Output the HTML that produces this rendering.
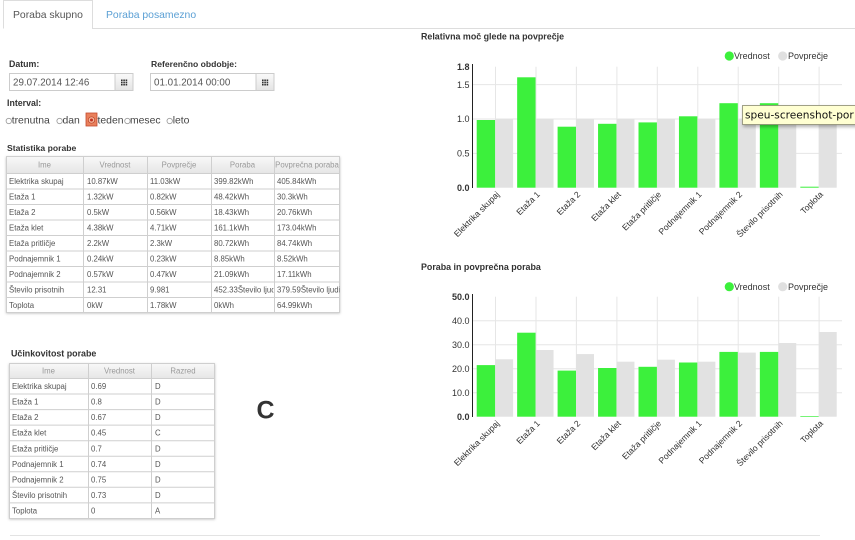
<!DOCTYPE html>
<html>
<head>
<meta charset="utf-8">
<style>
html,body{margin:0;padding:0;background:#fff;}
body{width:855px;height:540px;overflow:hidden;}
svg{display:block;}
</style>
</head>
<body>
<svg width="855" height="540" viewBox="0 0 855 540" xmlns="http://www.w3.org/2000/svg" font-family="'Liberation Sans', Arial, sans-serif">
<defs>
  <linearGradient id="hg" x1="0" y1="0" x2="0" y2="1">
    <stop offset="0" stop-color="#f9f9f9"/>
    <stop offset="1" stop-color="#e6e6e6"/>
  </linearGradient>
  <linearGradient id="bg" x1="0" y1="0" x2="0" y2="1">
    <stop offset="0" stop-color="#fafafa"/>
    <stop offset="1" stop-color="#e4e4e4"/>
  </linearGradient>
  <filter id="sh" x="-5%" y="-5%" width="110%" height="115%">
    <feDropShadow dx="0" dy="1" stdDeviation="1.2" flood-color="#000" flood-opacity="0.25"/>
  </filter>
  <filter id="tsh" x="-10%" y="-30%" width="130%" height="180%">
    <feDropShadow dx="1" dy="2" stdDeviation="1.5" flood-color="#000" flood-opacity="0.3"/>
  </filter>
  <clipPath id="c14"><rect x="211" y="150" width="62.5" height="170"/></clipPath>
  <clipPath id="c15"><rect x="274" y="150" width="65.5" height="170"/></clipPath>
</defs>

<!-- Tabs -->
<path d="M3.5 28.5 V0.5 H92.5 V28.5 H855" fill="none" stroke="#dddddd"/>
<text x="13" y="17.8" font-size="10.4" fill="#555">Poraba skupno</text>
<text x="106" y="17.8" font-size="10.4" fill="#5a9fd4">Poraba posamezno</text>

<!-- Date labels -->
<text x="9" y="67.2" font-size="8.8" font-weight="bold" fill="#333">Datum:</text>
<text x="151" y="67.2" font-size="8.6" font-weight="bold" fill="#333">Referenčno obdobje:</text>

<!-- Inputs -->
<rect x="9.5" y="73.5" width="105.5" height="17" fill="#fff" stroke="#cccccc"/>
<rect x="115" y="73.5" width="18" height="17" fill="url(#bg)" stroke="#cccccc"/>
<g fill="#333">
  <rect x="121" y="79.5" width="1.6" height="1.6"/><rect x="123.3" y="79.5" width="1.6" height="1.6"/><rect x="125.6" y="79.5" width="1.6" height="1.6"/>
  <rect x="121" y="81.7" width="1.6" height="1.6"/><rect x="123.3" y="81.7" width="1.6" height="1.6"/><rect x="125.6" y="81.7" width="1.6" height="1.6"/>
  <rect x="121" y="83.9" width="1.6" height="1.6"/><rect x="123.3" y="83.9" width="1.6" height="1.6"/><rect x="125.6" y="83.9" width="1.6" height="1.6"/>
</g>
<text x="13" y="85.6" font-size="9.8" fill="#555">29.07.2014 12:46</text>

<rect x="150.5" y="73.5" width="105.5" height="17" fill="#fff" stroke="#cccccc"/>
<rect x="256" y="73.5" width="18" height="17" fill="url(#bg)" stroke="#cccccc"/>
<g fill="#333">
  <rect x="262" y="79.5" width="1.6" height="1.6"/><rect x="264.3" y="79.5" width="1.6" height="1.6"/><rect x="266.6" y="79.5" width="1.6" height="1.6"/>
  <rect x="262" y="81.7" width="1.6" height="1.6"/><rect x="264.3" y="81.7" width="1.6" height="1.6"/><rect x="266.6" y="81.7" width="1.6" height="1.6"/>
  <rect x="262" y="83.9" width="1.6" height="1.6"/><rect x="264.3" y="83.9" width="1.6" height="1.6"/><rect x="266.6" y="83.9" width="1.6" height="1.6"/>
</g>
<text x="154" y="85.6" font-size="9.8" fill="#555">01.01.2014 00:00</text>

<!-- Interval -->
<text x="7" y="106" font-size="8.8" font-weight="bold" fill="#333">Interval:</text>
<g font-size="10.4" fill="#444">
  <circle cx="8.8" cy="121" r="2.7" fill="#fff" stroke="#999" stroke-width="0.8"/>
  <text x="11.7" y="123.3">trenutna</text>
  <circle cx="59.6" cy="121" r="2.7" fill="#fff" stroke="#999" stroke-width="0.8"/>
  <text x="62.5" y="123.3">dan</text>
  <rect x="86" y="113" width="11" height="13" fill="#e9805c" stroke="#c44a2e" stroke-width="0.8"/>
  <circle cx="91.5" cy="120" r="3.2" fill="#f6b79c" stroke="#b8432a" stroke-width="0.7"/>
  <circle cx="91.5" cy="120" r="1.5" fill="#c0301f"/>
  <text x="97.5" y="123.3">teden</text>
  <circle cx="127.4" cy="121" r="2.7" fill="#fff" stroke="#999" stroke-width="0.8"/>
  <text x="130" y="123.3">mesec</text>
  <circle cx="169.7" cy="121" r="2.7" fill="#fff" stroke="#999" stroke-width="0.8"/>
  <text x="172.7" y="123.3">leto</text>
</g>

<!-- Statistika porabe -->
<text x="7" y="151" font-size="8.6" font-weight="bold" fill="#333">Statistika porabe</text>
<rect x="6" y="156" width="334" height="156.5" fill="#fff" filter="url(#sh)"/>
<rect x="6" y="156" width="334" height="17" fill="url(#hg)"/>
<g stroke="#cfcfcf" stroke-width="1" fill="none">
  <rect x="6.5" y="156.5" width="333" height="156"/>
  <line x1="83.5" y1="156" x2="83.5" y2="312.5"/>
  <line x1="147.5" y1="156" x2="147.5" y2="312.5"/>
  <line x1="211.5" y1="156" x2="211.5" y2="312.5"/>
  <line x1="274.5" y1="156" x2="274.5" y2="312.5"/>
  <line x1="6" y1="173.5" x2="340" y2="173.5"/>
  <line x1="6" y1="189" x2="340" y2="189"/>
  <line x1="6" y1="204.5" x2="340" y2="204.5"/>
  <line x1="6" y1="220" x2="340" y2="220"/>
  <line x1="6" y1="235.5" x2="340" y2="235.5"/>
  <line x1="6" y1="251" x2="340" y2="251"/>
  <line x1="6" y1="266.5" x2="340" y2="266.5"/>
  <line x1="6" y1="282" x2="340" y2="282"/>
  <line x1="6" y1="297.5" x2="340" y2="297.5"/>
</g>
<g font-size="7.8" fill="#999" text-anchor="middle">
  <text x="44.5" y="167.3">Ime</text>
  <text x="115" y="167.3">Vrednost</text>
  <text x="179" y="167.3">Povprečje</text>
  <text x="242.5" y="167.3">Poraba</text>
  <text x="307" y="167.3" clip-path="url(#c15)">Povprečna poraba</text>
</g>
<g font-size="7.8" fill="#555">
  <text x="9" y="183.8">Elektrika skupaj</text><text x="87" y="183.8">10.87kW</text><text x="150" y="183.8">11.03kW</text><text x="214" y="183.8" clip-path="url(#c14)">399.82kWh</text><text x="277" y="183.8" clip-path="url(#c15)">405.84kWh</text>
  <text x="9" y="199.3">Etaža 1</text><text x="87" y="199.3">1.32kW</text><text x="150" y="199.3">0.82kW</text><text x="214" y="199.3" clip-path="url(#c14)">48.42kWh</text><text x="277" y="199.3" clip-path="url(#c15)">30.3kWh</text>
  <text x="9" y="214.8">Etaža 2</text><text x="87" y="214.8">0.5kW</text><text x="150" y="214.8">0.56kW</text><text x="214" y="214.8" clip-path="url(#c14)">18.43kWh</text><text x="277" y="214.8" clip-path="url(#c15)">20.76kWh</text>
  <text x="9" y="230.3">Etaža klet</text><text x="87" y="230.3">4.38kW</text><text x="150" y="230.3">4.71kW</text><text x="214" y="230.3" clip-path="url(#c14)">161.1kWh</text><text x="277" y="230.3" clip-path="url(#c15)">173.04kWh</text>
  <text x="9" y="245.8">Etaža pritličje</text><text x="87" y="245.8">2.2kW</text><text x="150" y="245.8">2.3kW</text><text x="214" y="245.8" clip-path="url(#c14)">80.72kWh</text><text x="277" y="245.8" clip-path="url(#c15)">84.74kWh</text>
  <text x="9" y="261.3">Podnajemnik 1</text><text x="87" y="261.3">0.24kW</text><text x="150" y="261.3">0.23kW</text><text x="214" y="261.3" clip-path="url(#c14)">8.85kWh</text><text x="277" y="261.3" clip-path="url(#c15)">8.52kWh</text>
  <text x="9" y="276.8">Podnajemnik 2</text><text x="87" y="276.8">0.57kW</text><text x="150" y="276.8">0.47kW</text><text x="214" y="276.8" clip-path="url(#c14)">21.09kWh</text><text x="277" y="276.8" clip-path="url(#c15)">17.11kWh</text>
  <text x="9" y="292.3">Število prisotnih</text><text x="87" y="292.3">12.31</text><text x="150" y="292.3">9.981</text><text x="214" y="292.3" clip-path="url(#c14)">452.33Število ljudi</text><text x="277" y="292.3" clip-path="url(#c15)">379.59Število ljudi</text>
  <text x="9" y="307.8">Toplota</text><text x="87" y="307.8">0kW</text><text x="150" y="307.8">1.78kW</text><text x="214" y="307.8" clip-path="url(#c14)">0kWh</text><text x="277" y="307.8" clip-path="url(#c15)">64.99kWh</text>
</g>

<!-- Učinkovitost porabe -->
<text x="11" y="356.3" font-size="8.9" font-weight="bold" fill="#333">Učinkovitost porabe</text>
<rect x="9" y="363" width="206" height="155.5" fill="#fff" filter="url(#sh)"/>
<rect x="9" y="363" width="206" height="15.5" fill="url(#hg)"/>
<g stroke="#cfcfcf" stroke-width="1" fill="none">
  <rect x="9.5" y="363.5" width="205" height="155"/>
  <line x1="88.5" y1="363" x2="88.5" y2="518.5"/>
  <line x1="151.5" y1="363" x2="151.5" y2="518.5"/>
  <line x1="9" y1="378.5" x2="215" y2="378.5"/>
  <line x1="9" y1="394" x2="215" y2="394"/>
  <line x1="9" y1="409.6" x2="215" y2="409.6"/>
  <line x1="9" y1="425.1" x2="215" y2="425.1"/>
  <line x1="9" y1="440.7" x2="215" y2="440.7"/>
  <line x1="9" y1="456.2" x2="215" y2="456.2"/>
  <line x1="9" y1="471.8" x2="215" y2="471.8"/>
  <line x1="9" y1="487.3" x2="215" y2="487.3"/>
  <line x1="9" y1="502.9" x2="215" y2="502.9"/>
</g>
<g font-size="7.8" fill="#999" text-anchor="middle">
  <text x="48.5" y="373.6">Ime</text>
  <text x="119.5" y="373.6">Vrednost</text>
  <text x="183" y="373.6">Razred</text>
</g>
<g font-size="7.8" fill="#555">
  <text x="12" y="389.1">Elektrika skupaj</text><text x="91" y="389.1">0.69</text><text x="155" y="389.1">D</text>
  <text x="12" y="404.6">Etaža 1</text><text x="91" y="404.6">0.8</text><text x="155" y="404.6">D</text>
  <text x="12" y="420.2">Etaža 2</text><text x="91" y="420.2">0.67</text><text x="155" y="420.2">D</text>
  <text x="12" y="435.7">Etaža klet</text><text x="91" y="435.7">0.45</text><text x="155" y="435.7">C</text>
  <text x="12" y="451.3">Etaža pritličje</text><text x="91" y="451.3">0.7</text><text x="155" y="451.3">D</text>
  <text x="12" y="466.8">Podnajemnik 1</text><text x="91" y="466.8">0.74</text><text x="155" y="466.8">D</text>
  <text x="12" y="482.4">Podnajemnik 2</text><text x="91" y="482.4">0.75</text><text x="155" y="482.4">D</text>
  <text x="12" y="497.9">Število prisotnih</text><text x="91" y="497.9">0.73</text><text x="155" y="497.9">D</text>
  <text x="12" y="513.5">Toplota</text><text x="91" y="513.5">0</text><text x="155" y="513.5">A</text>
</g>

<!-- Big C -->
<text x="256.5" y="418.5" font-size="25" font-weight="bold" fill="#333">C</text>

<!-- Bottom line -->
<line x1="10" y1="535.5" x2="820" y2="535.5" stroke="#e3e3e3"/>

<!-- ================= CHART 1 ================= -->
<text x="421" y="39.7" font-size="8.9" font-weight="bold" fill="#333">Relativna moč glede na povprečje</text>
<circle cx="729.3" cy="56" r="4.6" fill="#3cf03c"/>
<text x="734" y="59.2" font-size="9" fill="#333">Vrednost</text>
<circle cx="782.7" cy="56" r="4.6" fill="#e0e0e0"/>
<text x="788" y="59.2" font-size="9" fill="#333">Povprečje</text>

<g stroke="#e6e6e6" stroke-width="1">
  <line x1="472.5" y1="84.65" x2="842" y2="84.65"/>
  <line x1="472.5" y1="119" x2="842" y2="119"/>
  <line x1="472.5" y1="153.35" x2="842" y2="153.35"/>
  <line x1="495.5" y1="66.7" x2="495.5" y2="187.7"/>
  <line x1="536" y1="66.7" x2="536" y2="187.7"/>
  <line x1="576.4" y1="66.7" x2="576.4" y2="187.7"/>
  <line x1="616.9" y1="66.7" x2="616.9" y2="187.7"/>
  <line x1="657.3" y1="66.7" x2="657.3" y2="187.7"/>
  <line x1="697.8" y1="66.7" x2="697.8" y2="187.7"/>
  <line x1="738.2" y1="66.7" x2="738.2" y2="187.7"/>
  <line x1="778.7" y1="66.7" x2="778.7" y2="187.7"/>
  <line x1="819.1" y1="66.7" x2="819.1" y2="187.7"/>
</g>
<g fill="#3cf03c">
  <rect x="476.7" y="120.0" width="18.4" height="67.7"/>
  <rect x="517.15" y="77.3" width="18.4" height="110.4"/>
  <rect x="557.6" y="126.7" width="18.4" height="61.0"/>
  <rect x="598.05" y="123.8" width="18.4" height="63.9"/>
  <rect x="638.5" y="122.4" width="18.4" height="65.3"/>
  <rect x="678.95" y="116.3" width="18.4" height="71.4"/>
  <rect x="719.4" y="103.2" width="18.4" height="84.5"/>
  <rect x="759.85" y="103.2" width="18.4" height="84.5"/>
  <rect x="800.3" y="186.7" width="18.4" height="1"/>
</g>
<g fill="#e2e2e2">
  <rect x="495.3" y="119" width="17.8" height="68.7"/>
  <rect x="535.75" y="119" width="17.8" height="68.7"/>
  <rect x="576.2" y="119" width="17.8" height="68.7"/>
  <rect x="616.65" y="119" width="17.8" height="68.7"/>
  <rect x="657.1" y="119" width="17.8" height="68.7"/>
  <rect x="697.55" y="119" width="17.8" height="68.7"/>
  <rect x="738.0" y="119" width="17.8" height="68.7"/>
  <rect x="778.45" y="119" width="17.8" height="68.7"/>
  <rect x="818.9" y="119" width="17.8" height="68.7"/>
</g>
<line x1="472.5" y1="64" x2="472.5" y2="188" stroke="#222" stroke-width="1"/>
<g font-size="9" fill="#333" text-anchor="end">
  <text x="469.5" y="70" font-weight="bold">1.8</text>
  <text x="469.5" y="87.9">1.5</text>
  <text x="469.5" y="122.2">1.0</text>
  <text x="469.5" y="156.6">0.5</text>
  <text x="469.5" y="190.9" font-weight="bold">0.0</text>
</g>
<g font-size="8.6" fill="#333" text-anchor="end">
  <text transform="translate(500,195) rotate(-45)">Elektrika skupaj</text>
  <text transform="translate(540.5,195) rotate(-45)">Etaža 1</text>
  <text transform="translate(580.9,195) rotate(-45)">Etaža 2</text>
  <text transform="translate(621.4,195) rotate(-45)">Etaža klet</text>
  <text transform="translate(661.8,195) rotate(-45)">Etaža pritličje</text>
  <text transform="translate(702.3,195) rotate(-45)">Podnajemnik 1</text>
  <text transform="translate(742.7,195) rotate(-45)">Podnajemnik 2</text>
  <text transform="translate(783.2,195) rotate(-45)">Število prisotnih</text>
  <text transform="translate(823.6,195) rotate(-45)">Toplota</text>
</g>

<!-- Tooltip -->
<rect x="742.5" y="105.5" width="130" height="19" fill="#ffffd2" stroke="#8a8a70" stroke-width="0.8" filter="url(#tsh)"/>
<text x="745" y="118.6" font-size="10.6" fill="#111" font-family="'DejaVu Sans', sans-serif">speu-screenshot-por</text>

<!-- ================= CHART 2 ================= -->
<text x="421" y="269.9" font-size="8.9" font-weight="bold" fill="#333">Poraba in povprečna poraba</text>
<circle cx="729.3" cy="286.7" r="4.6" fill="#3cf03c"/>
<text x="734" y="289.9" font-size="9" fill="#333">Vrednost</text>
<circle cx="782.7" cy="286.7" r="4.6" fill="#e0e0e0"/>
<text x="788" y="289.9" font-size="9" fill="#333">Povprečje</text>

<g stroke="#e6e6e6" stroke-width="1">
  <line x1="472.5" y1="320.7" x2="842" y2="320.7"/>
  <line x1="472.5" y1="344.7" x2="842" y2="344.7"/>
  <line x1="472.5" y1="368.7" x2="842" y2="368.7"/>
  <line x1="472.5" y1="392.7" x2="842" y2="392.7"/>
  <line x1="495.5" y1="296.7" x2="495.5" y2="416.7"/>
  <line x1="536" y1="296.7" x2="536" y2="416.7"/>
  <line x1="576.4" y1="296.7" x2="576.4" y2="416.7"/>
  <line x1="616.9" y1="296.7" x2="616.9" y2="416.7"/>
  <line x1="657.3" y1="296.7" x2="657.3" y2="416.7"/>
  <line x1="697.8" y1="296.7" x2="697.8" y2="416.7"/>
  <line x1="738.2" y1="296.7" x2="738.2" y2="416.7"/>
  <line x1="778.7" y1="296.7" x2="778.7" y2="416.7"/>
  <line x1="819.1" y1="296.7" x2="819.1" y2="416.7"/>
</g>
<g fill="#3cf03c">
  <rect x="476.7" y="365.1" width="18.4" height="51.6"/>
  <rect x="517.15" y="332.7" width="18.4" height="84.0"/>
  <rect x="557.6" y="370.6" width="18.4" height="46.1"/>
  <rect x="598.05" y="368.0" width="18.4" height="48.7"/>
  <rect x="638.5" y="366.8" width="18.4" height="49.9"/>
  <rect x="678.95" y="362.5" width="18.4" height="54.2"/>
  <rect x="719.4" y="351.9" width="18.4" height="64.8"/>
  <rect x="759.85" y="351.9" width="18.4" height="64.8"/>
  <rect x="800.3" y="416" width="18.4" height="0.7"/>
</g>
<g fill="#e2e2e2">
  <rect x="495.3" y="359.3" width="17.8" height="57.4"/>
  <rect x="535.75" y="350.0" width="17.8" height="66.7"/>
  <rect x="576.2" y="354.1" width="17.8" height="62.6"/>
  <rect x="616.65" y="361.7" width="17.8" height="55.0"/>
  <rect x="657.1" y="359.7" width="17.8" height="57.0"/>
  <rect x="697.55" y="361.7" width="17.8" height="55.0"/>
  <rect x="738.0" y="352.6" width="17.8" height="64.1"/>
  <rect x="778.45" y="343.0" width="17.8" height="73.7"/>
  <rect x="818.9" y="332.0" width="17.8" height="84.7"/>
</g>
<line x1="472.5" y1="294" x2="472.5" y2="417" stroke="#222" stroke-width="1"/>
<g font-size="9" fill="#333" text-anchor="end">
  <text x="469.5" y="300" font-weight="bold">50.0</text>
  <text x="469.5" y="323.9">40.0</text>
  <text x="469.5" y="347.9">30.0</text>
  <text x="469.5" y="371.9">20.0</text>
  <text x="469.5" y="395.9">10.0</text>
  <text x="469.5" y="419.9" font-weight="bold">0.0</text>
</g>
<g font-size="8.6" fill="#333" text-anchor="end">
  <text transform="translate(500,424) rotate(-45)">Elektrika skupaj</text>
  <text transform="translate(540.5,424) rotate(-45)">Etaža 1</text>
  <text transform="translate(580.9,424) rotate(-45)">Etaža 2</text>
  <text transform="translate(621.4,424) rotate(-45)">Etaža klet</text>
  <text transform="translate(661.8,424) rotate(-45)">Etaža pritličje</text>
  <text transform="translate(702.3,424) rotate(-45)">Podnajemnik 1</text>
  <text transform="translate(742.7,424) rotate(-45)">Podnajemnik 2</text>
  <text transform="translate(783.2,424) rotate(-45)">Število prisotnih</text>
  <text transform="translate(823.6,424) rotate(-45)">Toplota</text>
</g>
</svg>
</body>
</html>
